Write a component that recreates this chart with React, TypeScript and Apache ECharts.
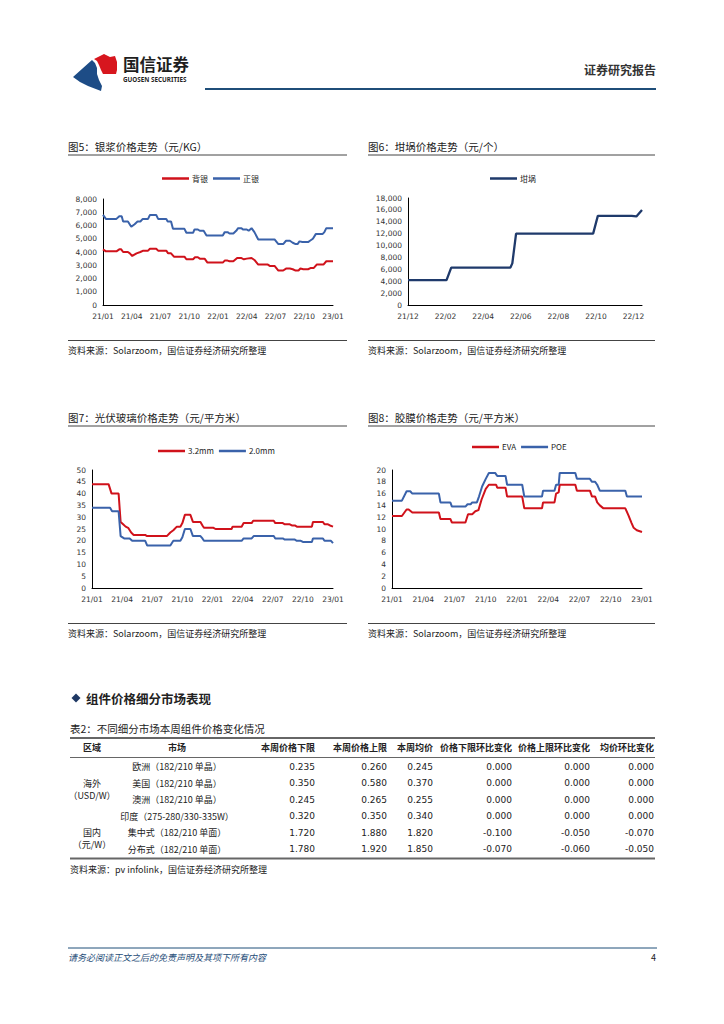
import React, { useEffect, useRef } from 'react';
import * as echarts from 'echarts';

const CJK = "'Noto Sans CJK SC', 'Noto Sans', sans-serif";
const NUM = "'DejaVu Sans', 'Noto Sans', sans-serif";

// ---------- chart data (x = months since first tick) ----------
const silverTicks = ['21/01', '21/04', '21/07', '21/10', '22/01', '22/04', '22/07', '22/10', '23/01'];
const beiYin: [number, number][] = [
  [0, 4200], [0.3, 4050], [1.4, 4050], [1.7, 4200], [1.9, 4200], [2.1, 4000], [2.6, 4000], [2.8, 3900], [3.05, 3700],
  [3.5, 3900], [3.9, 4000], [4.2, 4100], [4.7, 4100], [4.9, 4250], [5.55, 4250], [5.75, 4100], [6.6, 4100], [6.8, 3900],
  [7.1, 3900], [7.4, 3650], [8.5, 3650], [8.7, 3450], [9.4, 3450], [9.6, 3600], [9.9, 3600], [10.1, 3500], [10.6, 3500],
  [10.9, 3200], [12.5, 3200], [12.7, 3350], [13.0, 3350], [13.2, 3300], [13.6, 3300], [14.0, 3550], [14.4, 3550],
  [14.7, 3450], [15.0, 3500], [15.5, 3550], [15.8, 3400], [16.2, 3050], [17.2, 3050], [17.4, 2950], [17.9, 2950],
  [18.3, 2600], [18.8, 2600], [19.1, 2750], [19.5, 2750], [19.8, 2700], [20.1, 2600], [20.4, 2600], [20.6, 2750],
  [20.9, 2700], [21.4, 2700], [21.7, 2800], [22.0, 2800], [22.3, 3050], [23.0, 3050], [23.3, 3300], [24, 3300],
];
const zhengYin: [number, number][] = [
  [0, 6800], [0.3, 6500], [1.4, 6500], [1.7, 6700], [1.95, 6700], [2.1, 6300], [2.6, 6300], [2.95, 5900], [3.3, 6100],
  [3.6, 6300], [3.9, 6300], [4.15, 6500], [4.7, 6500], [4.9, 6800], [5.55, 6800], [5.75, 6500], [6.6, 6500], [6.75, 6300],
  [7.1, 6300], [7.3, 5750], [8.5, 5750], [8.7, 5450], [9.4, 5450], [9.55, 5700], [9.9, 5700], [10.1, 5600], [10.5, 5600],
  [10.8, 5250], [12.5, 5250], [12.7, 5500], [13.0, 5500], [13.2, 5400], [13.6, 5400], [13.9, 5600], [14.1, 5800],
  [14.45, 5800], [14.6, 5700], [15.0, 5700], [15.2, 5600], [15.5, 5800], [15.8, 5500], [16.2, 4950], [17.9, 4950],
  [18.3, 4600], [18.8, 4600], [19.1, 4850], [19.5, 4850], [19.8, 4700], [20.1, 4600], [20.3, 4600], [20.5, 4800],
  [20.8, 4750], [21.4, 4750], [21.6, 4850], [21.9, 5000], [22.2, 5350], [22.9, 5350], [23.1, 5500], [23.3, 5800], [24, 5800],
];

const crucibleTicks = ['21/12', '22/02', '22/04', '22/06', '22/08', '22/10', '22/12'];
const crucible: [number, number][] = [
  [0, 4200], [2.05, 4200], [2.3, 6300], [5.45, 6300], [5.55, 7000], [5.75, 12000], [9.85, 12000], [10.1, 15000],
  [11.9, 15000], [12.15, 14900], [12.45, 16000],
];

const glassTicks = silverTicks;
const glass32: [number, number][] = [
  [0, 44], [1.65, 44], [1.95, 40], [2.65, 40], [2.85, 28], [3.1, 27], [3.35, 26], [3.6, 25.5], [3.9, 23.5], [4.15, 22.5],
  [5.3, 22.5], [5.45, 22], [7.45, 22], [7.8, 23.5], [8.1, 24.5], [8.45, 26], [8.8, 26], [9.0, 27.5], [9.25, 31], [9.8, 31],
  [10.05, 28], [10.8, 28], [11.0, 26.5], [11.15, 25.5], [12.1, 25.5], [12.3, 25], [13.9, 25], [14.0, 26], [14.9, 26],
  [15.1, 27.5], [15.9, 27.5], [16.05, 28.5], [18.1, 28.5], [18.25, 27.5], [19.0, 27.5], [19.2, 27], [19.7, 27],
  [19.9, 26.5], [20.2, 26.5], [20.4, 26], [21.9, 26], [22.0, 28], [23.0, 28], [23.15, 27], [23.5, 27], [23.7, 26.5], [24, 26],
];
const glass20: [number, number][] = [
  [0, 34], [1.8, 34], [2.0, 32.5], [2.65, 32.5], [2.85, 22], [3.2, 21], [3.75, 21], [4.0, 20], [5.3, 20], [5.5, 18],
  [7.8, 18], [8.1, 20], [8.8, 20], [9.0, 21.5], [9.25, 25], [9.8, 25], [10.05, 22], [10.8, 22], [11.0, 21], [11.15, 20],
  [14.9, 20], [15.1, 21], [15.9, 21], [16.1, 22], [18.1, 22], [18.25, 21], [19.0, 21], [19.2, 20.5], [20.2, 20.5],
  [20.4, 20], [20.8, 20], [21.0, 19.5], [21.9, 19.5], [22.0, 21], [23.0, 21], [23.15, 20], [23.8, 20], [24, 19],
];

const filmTicks = silverTicks;
const eva: [number, number][] = [
  [0, 12.2], [0.95, 12.2], [1.4, 13.3], [1.6, 13.3], [1.95, 12.8], [4.5, 12.8], [4.65, 11.7], [5.6, 11.7], [5.75, 11.1],
  [7.05, 11.1], [7.3, 12.5], [7.7, 12.5], [8.0, 13], [8.3, 13.2], [8.6, 15], [9.0, 16.8], [9.3, 17.5], [10.0, 17.5],
  [10.1, 17], [10.9, 17], [11.05, 15.5], [12.5, 15.5], [12.7, 13.5], [14.4, 13.5], [14.5, 14.5], [15.6, 14.5], [15.75, 16],
  [16.0, 16.2], [16.1, 17.5], [17.6, 17.5], [17.75, 16.5], [19.0, 16.5], [19.2, 15.5], [19.5, 15.5], [19.7, 14.5],
  [19.95, 14], [20.3, 13.5], [22.4, 13.5], [22.7, 12.3], [23.0, 11], [23.2, 10.2], [23.5, 9.8], [24, 9.5],
];
const poe: [number, number][] = [
  [0, 14.8], [0.95, 14.8], [1.4, 16.4], [1.75, 16.4], [1.95, 16], [4.5, 16], [4.65, 14.5], [5.6, 14.5], [5.75, 13.8],
  [7.05, 13.8], [7.25, 14.2], [7.55, 14.2], [7.7, 14.5], [8.15, 14.5], [8.35, 15.5], [8.65, 17.2], [9.0, 18.5], [9.3, 19.5],
  [9.9, 19.5], [10.1, 19], [10.9, 19], [11.05, 17.5], [12.5, 17.5], [12.7, 15.5], [14.4, 15.5], [14.5, 16.5], [15.6, 16.5],
  [15.75, 17.5], [16.0, 17.5], [16.1, 19.5], [17.6, 19.5], [17.75, 18.5], [19.0, 18.5], [19.2, 18], [19.5, 18],
  [19.7, 17.5], [19.95, 16.5], [22.4, 16.5], [22.55, 15.5], [24, 15.5],
];

// ---------- table data ----------
const tableHeaders = ['区域', '市场', '本周价格下限', '本周价格上限', '本周均价', '价格下限环比变化', '价格上限环比变化', '均价环比变化'];
const marketNames = ['欧洲（182/210 单晶）', '美国（182/210 单晶）', '澳洲（182/210 单晶）', '印度（275-280/330-335W）', '集中式（182/210 单面）', '分布式（182/210 单面）'];
const lowPrices = [0.235, 0.35, 0.245, 0.32, 1.72, 1.78];
const highPrices = [0.26, 0.58, 0.265, 0.35, 1.88, 1.92];
const avgPrices = [0.245, 0.37, 0.255, 0.34, 1.82, 1.85];
const lowChg = [0, 0, 0, 0, -0.1, -0.07];
const highChg = [0, 0, 0, 0, -0.05, -0.06];
const avgChg = [0, 0, 0, 0, -0.07, -0.05];

const RED = '#D0121B';
const BLUE = '#3A62AA';
const NAVY = '#1F3A6B';

function T(text: string, x: number, y: number, size: number, o: any = {}) {
  const align = o.align || 'left';
  return {
    type: 'text',
    x,
    y,
    silent: true,
    style: {
      text,
      fontSize: size,
      fontFamily: o.font || CJK,
      fontWeight: o.bold ? 'bold' : 'normal',
      fontStyle: o.italic ? 'italic' : 'normal',
      fill: o.color || '#222',
      align,
      textAlign: align,
      verticalAlign: 'middle',
      textVerticalAlign: 'middle',
    },
  };
}

function L(x1: number, y1: number, x2: number, y2: number, color = '#555', w = 1) {
  return { type: 'line', silent: true, shape: { x1, y1, x2, y2 }, style: { stroke: color, lineWidth: w } };
}

function mkX(gridIndex: number, max: number, interval: number, labels: string[]) {
  return {
    type: 'value',
    gridIndex,
    min: 0,
    max,
    interval,
    axisLine: { show: true, lineStyle: { color: '#000', width: 1 } },
    axisTick: { show: false },
    splitLine: { show: false },
    axisLabel: {
      fontSize: 7.5,
      fontFamily: NUM,
      color: '#333',
      margin: 7,
      showMaxLabel: true,
      formatter: (v: number) => {
        const i = Math.round(v / interval);
        return Math.abs(i * interval - v) < 1e-6 ? labels[i] || '' : '';
      },
    },
  };
}

function mkY(gridIndex: number, max: number, interval: number) {
  return {
    type: 'value',
    gridIndex,
    min: 0,
    max,
    interval,
    axisLine: { show: true, lineStyle: { color: '#000', width: 1 } },
    axisTick: { show: false },
    splitLine: { show: false },
    axisLabel: {
      fontSize: 7.5,
      fontFamily: NUM,
      color: '#333',
      margin: 6,
      formatter: (v: number) => v.toLocaleString('en-US'),
    },
  };
}

function line(name: string, data: [number, number][], color: string, idx: number, w = 2) {
  return {
    type: 'line',
    name,
    data,
    xAxisIndex: idx,
    yAxisIndex: idx,
    symbol: 'none',
    showSymbol: false,
    lineStyle: { color, width: w },
    itemStyle: { color },
    silent: true,
  };
}

function legend(names: string[], left: number, top: number) {
  return {
    data: names,
    left,
    top,
    padding: 0,
    icon: 'rect',
    itemWidth: 27,
    itemHeight: 2.5,
    itemGap: 5,
    selectedMode: false,
    textStyle: { fontSize: 8, fontFamily: CJK, color: '#222', padding: [0, 0, 0, -2] },
  };
}

function buildGraphic() {
  const g: any[] = [];
  // header logo
  g.push({
    type: 'polygon',
    silent: true,
    shape: { points: [[73, 77], [92, 60], [95, 63], [97, 68], [97, 74], [99, 80], [102, 86], [101, 91], [88, 86], [80, 82]] },
    style: { fill: '#1D4C86' },
  });
  g.push({
    type: 'polygon',
    silent: true,
    shape: { points: [[94, 59], [104, 54], [110, 57], [115, 56], [117, 62], [117, 70], [116, 74], [103, 74], [101, 70], [99, 65], [97, 61]] },
    style: { fill: '#D7161E' },
  });
  g.push(T('国信证券', 123, 64, 16.5, { bold: true, color: '#1f1f1f' }));
  g.push(T('GUOSEN SECURITIES', 123, 79, 6.3, { bold: true, font: "'Noto Sans', sans-serif", color: '#1f1f1f' }));
  g.push(L(205, 89, 656, 89, '#1F4E79', 2));
  g.push(T('证券研究报告', 656, 69, 12, { bold: true, align: 'right', color: '#333' }));

  // chart titles and source notes
  const titles: [string, number, number][] = [
    ['图5：银浆价格走势（元/KG）', 68, 146.5],
    ['图6：坩埚价格走势（元/个）', 368, 146.5],
    ['图7：光伏玻璃价格走势（元/平方米）', 68, 417.5],
    ['图8：胶膜价格走势（元/平方米）', 368, 417.5],
  ];
  titles.forEach(([t, x, y]) => {
    g.push(T(t, x, y, 10.5));
    g.push(L(x, y + 8.5, x + (x < 300 ? 279 : 287), y + 8.5, '#444', 1));
  });
  const sources: [number, number][] = [
    [68, 350], [368, 350], [68, 633], [368, 633],
  ];
  sources.forEach(([x, y]) => {
    g.push(L(x, y - 9.5, x + (x < 300 ? 279 : 287), y - 9.5, '#444', 1));
    g.push(T('资料来源：Solarzoom，国信证券经济研究所整理', x, y, 9));
  });

  // section header
  g.push({
    type: 'polygon',
    silent: true,
    shape: { points: [[76, 693.5], [80.5, 698], [76, 702.5], [71.5, 698]] },
    style: { fill: '#1F3864' },
  });
  g.push(T('组件价格细分市场表现', 86, 698, 12.5, { bold: true }));

  // table
  g.push(T('表2：不同细分市场本周组件价格变化情况', 70, 728, 10.5));
  g.push(L(70, 738, 655, 738, '#666', 1.8));
  g.push(L(70, 757.5, 655, 757.5, '#666', 1));
  g.push(L(70, 858.5, 655, 858.5, '#666', 1.8));
  const colX = [92, 177, 315, 387, 433, 512, 590, 654];
  const colAlign = ['center', 'center', 'right', 'right', 'right', 'right', 'right', 'right'];
  tableHeaders.forEach((h, i) => g.push(T(h, colX[i], 747.5, 9, { bold: true, align: colAlign[i] })));
  const rowY = [766.5, 783, 799.5, 816, 832.5, 849];
  const fmt = (v: number) => (v < 0 ? '-' : '') + Math.abs(v).toFixed(3);
  marketNames.forEach((m, r) => {
    const y = rowY[r];
    g.push(T(m, colX[1], y, 9, { align: 'center' }));
    [lowPrices, highPrices, avgPrices, lowChg, highChg, avgChg].forEach((arr, c) => {
      g.push(T(fmt(arr[r]), colX[c + 2], y, 9, { align: 'right', font: NUM }));
    });
  });
  g.push(T('海外', 92, 783, 9, { align: 'center' }));
  g.push(T('（USD/W）', 92, 795.5, 9, { align: 'center' }));
  g.push(T('国内', 92, 832, 9, { align: 'center' }));
  g.push(T('（元/W）', 92, 844.5, 9, { align: 'center' }));
  g.push(T('资料来源：pv infolink，国信证券经济研究所整理', 70, 869, 9));

  // footer
  g.push(L(68, 948, 657, 948, '#1F4E79', 1));
  g.push(T('请务必阅读正文之后的免责声明及其项下所有内容', 68, 957, 9, { italic: true, color: '#1F4E79' }));
  g.push(T('4', 656, 957, 9, { align: 'right', color: '#222' }));
  return g;
}

function buildOption() {
  return {
    animation: false,
    backgroundColor: '#ffffff',
    grid: [
      { left: 103, top: 199, width: 230, height: 106 },
      { left: 408, top: 198, width: 234, height: 107 },
      { left: 92, top: 470, width: 241, height: 118 },
      { left: 392, top: 470, width: 250, height: 118 },
    ],
    xAxis: [
      mkX(0, 24, 3, silverTicks),
      mkX(1, 12.45, 2, crucibleTicks),
      mkX(2, 24, 3, glassTicks),
      mkX(3, 24, 3, filmTicks),
    ],
    yAxis: [mkY(0, 8000, 1000), mkY(1, 18000, 2000), mkY(2, 50, 5), mkY(3, 20, 2)],
    legend: [
      legend(['背银', '正银'], 162, 174.5),
      legend(['坩埚'], 490, 174.5),
      legend(['3.2mm', '2.0mm'], 158, 447),
      legend(['EVA', 'POE'], 472, 443),
    ],
    series: [
      line('背银', beiYin, RED, 0),
      line('正银', zhengYin, BLUE, 0),
      line('坩埚', crucible, NAVY, 1, 2.3),
      line('3.2mm', glass32, RED, 2),
      line('2.0mm', glass20, BLUE, 2),
      line('EVA', eva, RED, 3),
      line('POE', poe, BLUE, 3),
    ],
    graphic: { elements: buildGraphic() },
  };
}

export default function App() {
  const ref = useRef<HTMLDivElement>(null);
  useEffect(() => {
    const chart = echarts.init(ref.current as HTMLDivElement, null, { renderer: 'svg' });
    chart.setOption(buildOption() as any);
    return () => chart.dispose();
  }, []);
  return (
    <div
      ref={ref}
      style={{ position: 'absolute', left: 0, top: 0, width: 724, height: 1024, background: '#fff' }}
    />
  );
}
